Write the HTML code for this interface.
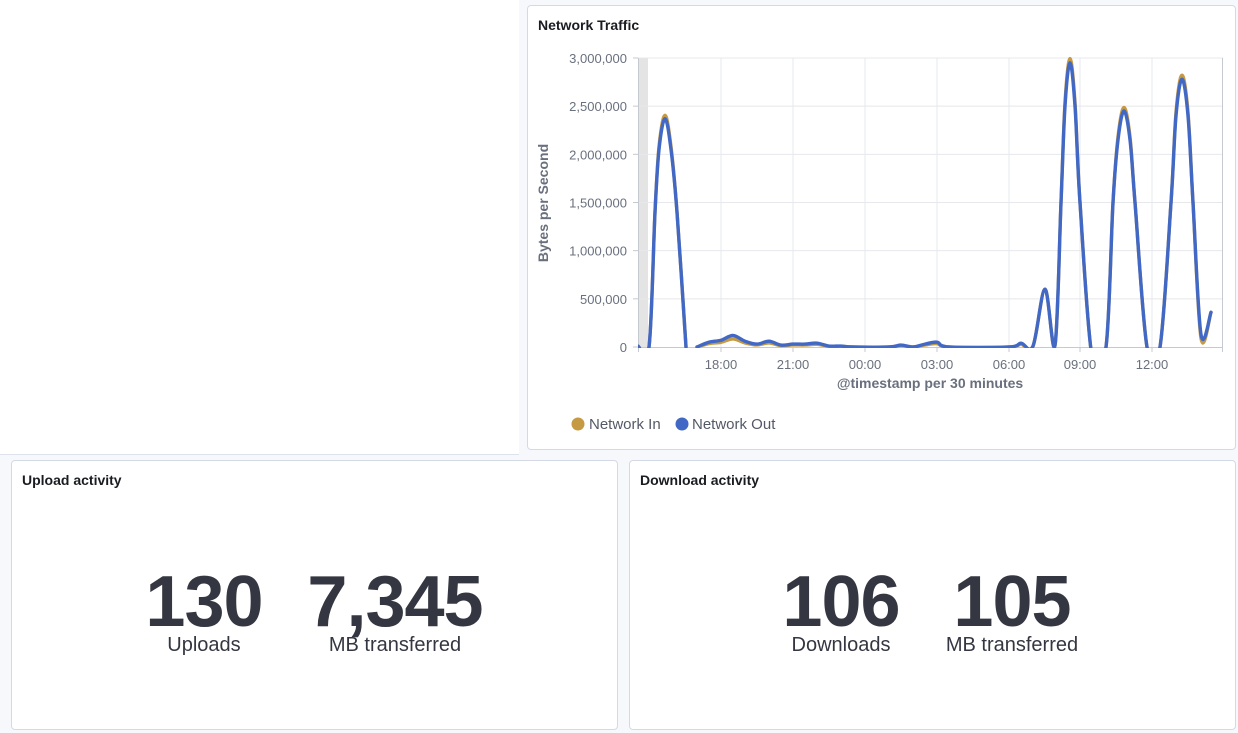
<!DOCTYPE html>
<html><head><meta charset="utf-8"><style>
body{margin:0;width:1238px;height:733px;background:#f7f8fc;font-family:"Liberation Sans",sans-serif;position:relative;overflow:hidden}
.p{position:absolute;background:#fff;border:1px solid #d3dae6;border-radius:4px;box-sizing:border-box}
.t{position:absolute;left:10px;top:11px;font-size:14px;font-weight:bold;color:#1a1c21}
.m{position:absolute;text-align:center;color:#343741}
.n{font-size:72px;font-weight:bold;line-height:72px;letter-spacing:-1px}
.l{font-size:20px;line-height:22px;margin-top:-4px}
</style></head><body>
<div style="position:absolute;left:0;top:0;width:519px;height:454px;background:#fff;border-bottom:1px solid #dde2ec"></div>
<div class="p" style="left:527px;top:5px;width:709px;height:445px"><div class="t">Network Traffic</div></div>
<div class="p" style="left:11px;top:460px;width:607px;height:270px"><div class="t">Upload activity</div></div>
<div class="p" style="left:629px;top:460px;width:607px;height:270px"><div class="t">Download activity</div></div>
<div class="m" style="left:134px;top:566px;width:140px"><div class="n">130</div><div class="l">Uploads</div></div>
<div class="m" style="left:295px;top:566px;width:200px"><div class="n">7,345</div><div class="l">MB transferred</div></div>
<div class="m" style="left:771px;top:566px;width:140px"><div class="n">106</div><div class="l">Downloads</div></div>
<div class="m" style="left:912px;top:566px;width:200px"><div class="n">105</div><div class="l">MB transferred</div></div>
<svg id="s" width="1238" height="733" style="position:absolute;left:0;top:0" font-family="Liberation Sans, sans-serif">
<defs><clipPath id="c"><rect x="638" y="50" width="585" height="298"/></clipPath></defs>
<rect x="638" y="58" width="10" height="289" fill="#e4e4e4"/>
<g id="g" stroke="#e6e8ec" stroke-width="1"></g>
<g id="tx" font-size="13" fill="#69707d"></g>
<line x1="638" y1="347.5" x2="1223" y2="347.5" stroke="#c5c9d0"/>
<line x1="638.5" y1="58" x2="638.5" y2="352" stroke="#c5c9d0"/>
<text x="548" y="203" transform="rotate(-90 548 203)" text-anchor="middle" font-size="14" font-weight="bold" fill="#69707d">Bytes per Second</text>
<text x="930" y="388" text-anchor="middle" font-size="14" font-weight="bold" fill="#69707d">@timestamp per 30 minutes</text>
<g clip-path="url(#c)" fill="none" stroke-width="3.4" stroke-linejoin="round" stroke-linecap="round">
<path id="pin" stroke="#c59a43"/><path id="pin2" stroke="#c59a43"/>
<path id="pout" stroke="#4168c5"/><path id="pout2" stroke="#4168c5"/>
</g>
<circle cx="578" cy="424" r="6.5" fill="#c59a43"/><text x="589" y="429" font-size="15" fill="#535966">Network In</text>
<circle cx="682" cy="424" r="6.5" fill="#4168c5"/><text x="692" y="429" font-size="15" fill="#535966">Network Out</text>
</svg>
<script>
var g=document.getElementById('g'),tx=document.getElementById('tx'),h='';
var yl=['0','500,000','1,000,000','1,500,000','2,000,000','2,500,000','3,000,000'];
for(var i=0;i<7;i++){var y=347-i*48.17;if(i>0)h+='<line x1="638" x2="1223" y1="'+y+'" y2="'+y+'"/>';}
var xs=[721,793,865,937,1009,1080,1152],xl=['18:00','21:00','00:00','03:00','06:00','09:00','12:00'];
xs.forEach(function(x){h+='<line x1="'+x+'" x2="'+x+'" y1="58" y2="347"/>';});
h+='<line x1="1222.5" x2="1222.5" y1="58" y2="352" stroke="#c5c9d0"/>';
g.innerHTML=h;var t='';
for(var i=0;i<7;i++){var y=347-i*48.17;t+='<text x="627" y="'+(y+5)+'" text-anchor="end">'+yl[i]+'</text><line x1="633" x2="638" y1="'+y+'" y2="'+y+'" stroke="#c5c9d0"/>';}
xs.forEach(function(x,i){t+='<text x="'+x+'" y="369" text-anchor="middle">'+xl[i]+'</text><line x1="'+x+'" x2="'+x+'" y1="347" y2="352" stroke="#c5c9d0"/>';});
tx.innerHTML=t;
function P(a){var p=a.map(function(q){return [q[0],347-q[1]*96.33]});var d='M'+p[0][0]+','+p[0][1];
for(var i=0;i<p.length-1;i++){var p0=p[i-1]||p[i],p1=p[i],p2=p[i+1],p3=p[i+2]||p2;
d+='C'+(p1[0]+(p2[0]-p0[0])/6)+','+(p1[1]+(p2[1]-p0[1])/6)+' '+(p2[0]-(p3[0]-p1[0])/6)+','+(p2[1]-(p3[1]-p1[1])/6)+' '+p2[0]+','+p2[1];}return d;}
function mk(k){
var o1=[[638,0.01],[649,0],[655,1.4],[659,2.05*k],[665,2.37*k],[671,2.05*k],[677,1.4],[686,0]];
var o2=[[697,0],[709,0.05],[721,0.07],[733,0.12],[745,0.06],[757,0.03],[769,0.06],[781,0.02],[793,0.03],[805,0.03],[817,0.04],[829,0.01],[841,0.01],[853,0],[889,0],[901,0.02],[913,0],[925,0.03],[937,0.05],[949,0],[1009,0],[1021,0.04],[1033,0.01],[1045,0.6],[1055,0.02],[1061,1.5],[1065,2.5*k],[1070,2.95*k],[1075,2.5*k],[1080,1.5],[1092,-0.1],[1106,0],[1113,1.5],[1118,2.15*k],[1124,2.45*k],[1130,2.15*k],[1135,1.5],[1147,0],[1160,0],[1171,1.5],[1176,2.4*k],[1182,2.78*k],[1188,2.4*k],[1193,1.5],[1201,0.13],[1211,0.36]];
return [o1,o2];}
var o=mk(1),n=mk(1.015);
n[1]=n[1].map(function(q){var v=q[1];if(v>0&&v<0.2)v*=0.7;return [q[0],v];});
document.getElementById('pout').setAttribute('d',P(o[0]));document.getElementById('pout2').setAttribute('d',P(o[1]));
document.getElementById('pin').setAttribute('d',P(n[0]));document.getElementById('pin2').setAttribute('d',P(n[1]));
</script>
</body></html>
